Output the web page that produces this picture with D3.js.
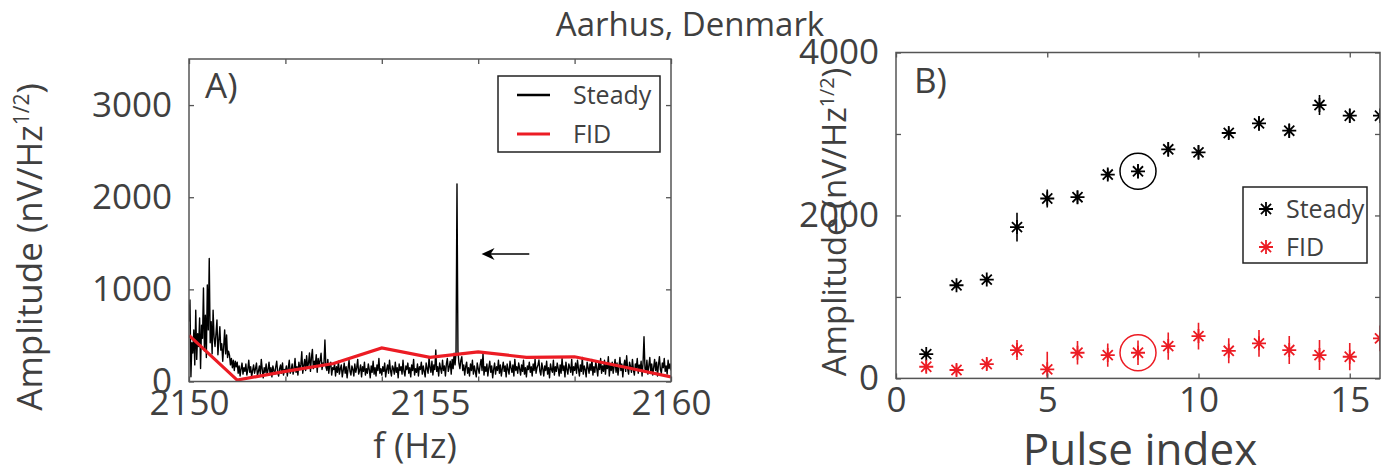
<!DOCTYPE html>
<html>
<head>
<meta charset="utf-8">
<script src="https://cdn.jsdelivr.net/npm/d3@7"></script>
<style>
  body { margin: 0; background: #fff; }
  text { font-family: "Open Sans", sans-serif; fill: #404040; }
</style>
</head>
<body>
<svg id="chart" width="1382" height="470"></svg>
<script>
// ---- Panel A: amplitude spectra around the Larmor frequency ----
const freqStart = 2150;   // Hz
const freqStep = 0.02;    // Hz between spectrum samples
const steadyAmp = [
  650, 884, 52, 420, 310, 560, 180, 775, 240, 520,
  380, 690, 140, 610, 470, 1014, 330, 720, 260, 1047,
  560, 1336, 420, 650, 300, 775, 480, 380, 520, 667,
  290, 450, 594, 340, 410, 220, 380, 560, 300, 505,
  260, 330, 287, 180, 250, 150, 230, 120, 220, 160,
  210, 90, 170, 60, 140, 200, 80, 150, 110, 190,
  70, 130, 230, 100, 160, 50, 120, 180, 90, 140,
  200, 60, 110, 170, 80, 240, 130, 40, 150, 100,
  190, 70, 130, 210, 90, 150, 50, 170, 120, 80,
  160, 220, 100, 60, 140, 180, 90, 200, 70, 130,
  110, 170, 60, 150, 230, 90, 120, 190, 80, 140,
  250, 100, 160, 70, 210, 130, 180, 323, 90, 170,
  240, 120, 280, 150, 200, 310, 110, 260, 349, 140,
  220, 180, 290, 100, 250, 170, 230, 306, 130, 200,
  190, 450, 160, 120, 240, 90, 180, 210, 70, 150,
  130, 190, 60, 160, 100, 220, 80, 140, 180, 50,
  120, 200, 90, 160, 40, 140, 230, 110, 70, 170,
  130, 60, 190, 100, 150, 240, 80, 120, 180, 50,
  160, 110, 210, 70, 140, 90, 190, 130, 40, 170,
  100, 220, 80, 150, 60, 180, 120, 250, 90, 140,
  70, 160, 110, 200, 50, 130, 180, 90, 230, 120,
  60, 170, 140, 80, 210, 100, 150, 40, 190, 120,
  160, 80, 230, 110, 60, 170, 130, 200, 90, 150,
  50, 180, 120, 240, 70, 140, 100, 190, 60, 160,
  130, 210, 80, 170, 110, 50, 200, 140, 90, 260,
  150, 100, 220, 70, 180, 130, 342, 110, 160, 60,
  200, 140, 90, 230, 120, 170, 60, 190, 250, 110,
  160, 220, 80, 240, 140, 306, 180, 310, 2145, 330,
  200, 140, 230, 269, 120, 180, 70, 160, 210, 90,
  150, 60, 190, 120, 230, 80, 170, 110, 50, 200,
  140, 90, 180, 240, 120, 306, 70, 160, 110, 190,
  60, 150, 220, 100, 170, 40, 130, 200, 80, 160,
  120, 230, 90, 180, 60, 140, 210, 110, 170, 50,
  190, 130, 80, 220, 150, 100, 180, 60, 240, 120,
  160, 90, 200, 140, 70, 180, 110, 230, 80, 150,
  50, 170, 130, 210, 100, 160, 60, 190, 120, 240,
  90, 150, 180, 233, 110, 70, 200, 140, 60, 170,
  120, 220, 80, 150, 40, 190, 130, 100, 230, 70,
  160, 110, 200, 140, 60, 180, 90, 250, 120, 170,
  50, 210, 130, 80, 190, 150, 100, 240, 70, 160,
  120, 200, 90, 230, 140, 60, 180, 110, 260, 80,
  170, 130, 50, 210, 150, 90, 190, 120, 240, 70,
  160, 100, 220, 140, 60, 200, 130, 250, 90, 170,
  110, 230, 80, 190, 140, 270, 60, 180, 120, 210,
  90, 160, 240, 100, 200, 70, 150, 260, 120, 190,
  50, 170, 230, 110, 280, 140, 80, 210, 160, 100,
  240, 130, 70, 190, 150, 250, 90, 180, 120, 220,
  60, 200, 486, 140, 100, 230, 80, 170, 260, 110,
  190, 70, 150, 240, 120, 210, 60, 180, 270, 130,
  90, 200, 150, 250, 110, 170, 80, 230, 140, 190,
  120
];
const fidFreq = [2150, 2151, 2152, 2153, 2154, 2155, 2156, 2157, 2158, 2159, 2160];
const fidAmp  = [500, 15, 110, 195, 365, 262, 322, 262, 268, 160, 50];

const axisAXTicks = [2150, 2152, 2154, 2156, 2158, 2160];
const axisAXLabels = [2150, 2155, 2160];
const axisAYTicks = [0, 1000, 2000, 3000];

// ---- Panel B: amplitude per pulse ----
const pulseIndex = [1, 2, 3, 4, 5, 6, 7, 8, 9, 10, 11, 12, 13, 14, 15, 16];
const steadyPulse = [298, 1143, 1213, 1857, 2208, 2224, 2502, 2542, 2812, 2775, 3012, 3130, 3040, 3355, 3224, 3224];
const steadyErr   = [40, 40, 40, 177, 110, 80, 70, 90, 90, 90, 70, 90, 90, 122, 90, 90];
const fidPulse    = [143, 103, 176, 348, 111, 315, 286, 315, 397, 519, 339, 430, 348, 286, 266, 491];
const fidErr      = [70, 70, 70, 122, 216, 143, 143, 150, 167, 163, 153, 163, 171, 184, 167, 159];
const highlightedPulse = 8;

const axisBXTicks = [0, 5, 10, 15];
const axisBYTicks = [0, 1000, 2000, 3000, 4000];
const axisBYLabels = [0, 2000, 4000];

const RED = "#ec1c24";
const FRAME = "#555";

const svg = d3.select("#chart");

// title
svg.append("text").attr("x", 690).attr("y", 36).attr("text-anchor", "middle")
  .style("font-size", "33px").text("Aarhus, Denmark");

function yLabel(x, y, size) {
  const t = svg.append("text")
    .attr("transform", `translate(${x},${y}) rotate(-90)`)
    .attr("text-anchor", "middle").style("font-size", size + "px");
  t.append("tspan").text("Amplitude (nV/Hz");
  t.append("tspan").attr("dy", -size * 0.37).style("font-size", (size * 0.6) + "px").text("1/2");
  t.append("tspan").attr("dy", size * 0.37).text(")");
}

function styleAxis(g, size) {
  g.select(".domain").remove();
  g.selectAll("line").attr("stroke", FRAME).attr("stroke-width", 1.3);
  g.selectAll("text").style("font-size", size + "px").attr("fill", "#404040");
}

// ================= Panel A =================
const xA = d3.scaleLinear([2150, 2160], [189, 671]);
const yA = d3.scaleLinear([0, 3500], [381.5, 59]);

svg.append("clipPath").attr("id", "clipA").append("rect")
  .attr("x", xA.range()[0]).attr("y", yA.range()[1])
  .attr("width", xA.range()[1] - xA.range()[0]).attr("height", yA.range()[0] - yA.range()[1]);

const gA = svg.append("g").attr("clip-path", "url(#clipA)");
const steadyLine = d3.line()
  .x((d, i) => xA(freqStart + i * freqStep))
  .y(d => yA(d));
gA.append("path").datum(steadyAmp).attr("d", steadyLine)
  .attr("fill", "none").attr("stroke", "#000").attr("stroke-width", 1.4)
  .attr("stroke-linejoin", "round");

const fidLine = d3.line().x((d, i) => xA(fidFreq[i])).y(d => yA(d));
gA.append("path").datum(fidAmp).attr("d", fidLine)
  .attr("fill", "none").attr("stroke", RED).attr("stroke-width", 3.2);

// axes A (ticks point inward)
svg.append("g").attr("transform", `translate(0,${yA(0)})`)
  .call(d3.axisBottom(xA).tickValues(axisAXTicks).tickFormat("").tickSizeInner(-5).tickSizeOuter(0))
  .call(g => styleAxis(g, 35));
svg.append("g").attr("transform", `translate(0,${yA(0)})`)
  .call(d3.axisBottom(xA).tickValues(axisAXLabels).tickFormat(d3.format("d")).tickSize(0).tickPadding(9))
  .call(g => styleAxis(g, 35));
svg.append("g").attr("transform", `translate(0,${yA.range()[1]})`)
  .call(d3.axisTop(xA).tickValues(axisAXTicks).tickFormat("").tickSizeInner(-5).tickSizeOuter(0))
  .call(g => styleAxis(g, 35));
svg.append("g").attr("transform", `translate(${xA.range()[0]},0)`)
  .call(d3.axisLeft(yA).tickValues(axisAYTicks).tickFormat(d3.format("d")).tickSizeInner(-5).tickSizeOuter(0).tickPadding(17))
  .call(g => styleAxis(g, 35));
svg.append("g").attr("transform", `translate(${xA.range()[1]},0)`)
  .call(d3.axisRight(yA).tickValues(axisAYTicks).tickFormat("").tickSizeInner(-5).tickSizeOuter(0))
  .call(g => styleAxis(g, 35));

svg.append("rect").attr("x", xA.range()[0]).attr("y", yA.range()[1])
  .attr("width", xA.range()[1] - xA.range()[0]).attr("height", yA.range()[0] - yA.range()[1])
  .attr("fill", "none").attr("stroke", FRAME).attr("stroke-width", 1.5);

svg.append("text").attr("x", 205).attr("y", 98).style("font-size", "35px").text("A)");

// arrow pointing at the steady-state line
const arrowFrom = [2157.06, 1383], arrowTo = [2156.07, 1383];
svg.append("line")
  .attr("x1", xA(arrowFrom[0])).attr("y1", yA(arrowFrom[1]))
  .attr("x2", xA(arrowTo[0]) + 8).attr("y2", yA(arrowTo[1]))
  .attr("stroke", "#000").attr("stroke-width", 1.5);
{
  const tx = xA(arrowTo[0]), ty = yA(arrowTo[1]);
  svg.append("path")
    .attr("d", `M${tx},${ty} L${tx + 13},${ty - 6} L${tx + 9},${ty} L${tx + 13},${ty + 6} Z`)
    .attr("fill", "#000");
}

// legend A
{
  const lg = svg.append("g");
  lg.append("rect").attr("x", 498).attr("y", 76).attr("width", 162).attr("height", 76)
    .attr("fill", "#fff").attr("stroke", "#222").attr("stroke-width", 1.5);
  lg.append("line").attr("x1", 517).attr("x2", 550).attr("y1", 95).attr("y2", 95)
    .attr("stroke", "#000").attr("stroke-width", 2.5);
  lg.append("line").attr("x1", 517).attr("x2", 550).attr("y1", 134).attr("y2", 134)
    .attr("stroke", RED).attr("stroke-width", 3);
  lg.append("text").attr("x", 573).attr("y", 104).style("font-size", "25px").text("Steady");
  lg.append("text").attr("x", 573).attr("y", 143).style("font-size", "25px").text("FID");
}

svg.append("text").attr("x", 415).attr("y", 458).attr("text-anchor", "middle")
  .style("font-size", "35px").text("f (Hz)");
yLabel(42, 247, 35);

// ================= Panel B =================
const xB = d3.scaleLinear([0, 16], [896, 1380]);
const yB = d3.scaleLinear([0, 4000], [378.4, 52.5]);

svg.append("clipPath").attr("id", "clipB").append("rect")
  .attr("x", xB.range()[0]).attr("y", yB.range()[1])
  .attr("width", xB.range()[1] - xB.range()[0]).attr("height", yB.range()[0] - yB.range()[1]);

const starR = 7, starD = starR * 0.72;
const starPath = `M${-starR},0L${starR},0M0,${-starR}L0,${starR}` +
  `M${-starD},${-starD}L${starD},${starD}M${-starD},${starD}L${starD},${-starD}`;

const gB = svg.append("g").attr("clip-path", "url(#clipB)");
function series(values, errs, color) {
  const g = gB.append("g");
  g.selectAll("line.err").data(values).join("line").attr("class", "err")
    .attr("x1", (d, i) => xB(pulseIndex[i])).attr("x2", (d, i) => xB(pulseIndex[i]))
    .attr("y1", (d, i) => yB(d - errs[i])).attr("y2", (d, i) => yB(d + errs[i]))
    .attr("stroke", color).attr("stroke-width", 1.6);
  g.selectAll("path.star").data(values).join("path").attr("class", "star")
    .attr("transform", (d, i) => `translate(${xB(pulseIndex[i])},${yB(d)})`)
    .attr("d", starPath).attr("fill", "none").attr("stroke", color).attr("stroke-width", 1.8);
  const k = pulseIndex.indexOf(highlightedPulse);
  g.append("circle").attr("cx", xB(pulseIndex[k])).attr("cy", yB(values[k])).attr("r", 18)
    .attr("fill", "none").attr("stroke", color).attr("stroke-width", 1.5);
}
series(steadyPulse, steadyErr, "#000");
series(fidPulse, fidErr, RED);

svg.append("g").attr("transform", `translate(0,${yB(0)})`)
  .call(d3.axisBottom(xB).tickValues(axisBXTicks).tickFormat(d3.format("d")).tickSizeInner(-5).tickSizeOuter(0).tickPadding(9))
  .call(g => styleAxis(g, 35));
svg.append("g").attr("transform", `translate(0,${yB.range()[1]})`)
  .call(d3.axisTop(xB).tickValues(axisBXTicks).tickFormat("").tickSizeInner(-5).tickSizeOuter(0))
  .call(g => styleAxis(g, 35));
svg.append("g").attr("transform", `translate(${xB.range()[0]},0)`)
  .call(d3.axisLeft(yB).tickValues(axisBYTicks).tickFormat(d => axisBYLabels.includes(d) ? d : "")
    .tickSizeInner(-5).tickSizeOuter(0).tickPadding(17))
  .call(g => styleAxis(g, 35));
svg.append("g").attr("transform", `translate(${xB.range()[1]},0)`)
  .call(d3.axisRight(yB).tickValues(axisBYTicks).tickFormat("").tickSizeInner(-5).tickSizeOuter(0))
  .call(g => styleAxis(g, 35));

svg.append("rect").attr("x", xB.range()[0]).attr("y", yB.range()[1])
  .attr("width", xB.range()[1] - xB.range()[0]).attr("height", yB.range()[0] - yB.range()[1])
  .attr("fill", "none").attr("stroke", FRAME).attr("stroke-width", 1.5);

svg.append("text").attr("x", 914).attr("y", 93).style("font-size", "35px").text("B)");

// legend B
{
  const lg = svg.append("g");
  lg.append("rect").attr("x", 1243).attr("y", 187).attr("width", 124).attr("height", 76)
    .attr("fill", "#fff").attr("stroke", "#222").attr("stroke-width", 1.5);
  lg.append("path").attr("transform", "translate(1266,209)").attr("d", starPath)
    .attr("fill", "none").attr("stroke", "#000").attr("stroke-width", 1.8);
  lg.append("path").attr("transform", "translate(1266,247)").attr("d", starPath)
    .attr("fill", "none").attr("stroke", RED).attr("stroke-width", 1.8);
  lg.append("text").attr("x", 1286).attr("y", 218).style("font-size", "25px").text("Steady");
  lg.append("text").attr("x", 1286).attr("y", 256).style("font-size", "25px").text("FID");
}

svg.append("text").attr("x", 1140).attr("y", 465).attr("text-anchor", "middle")
  .style("font-size", "44px").text("Pulse index");
yLabel(846, 222, 33);
</script>
</body>
</html>
